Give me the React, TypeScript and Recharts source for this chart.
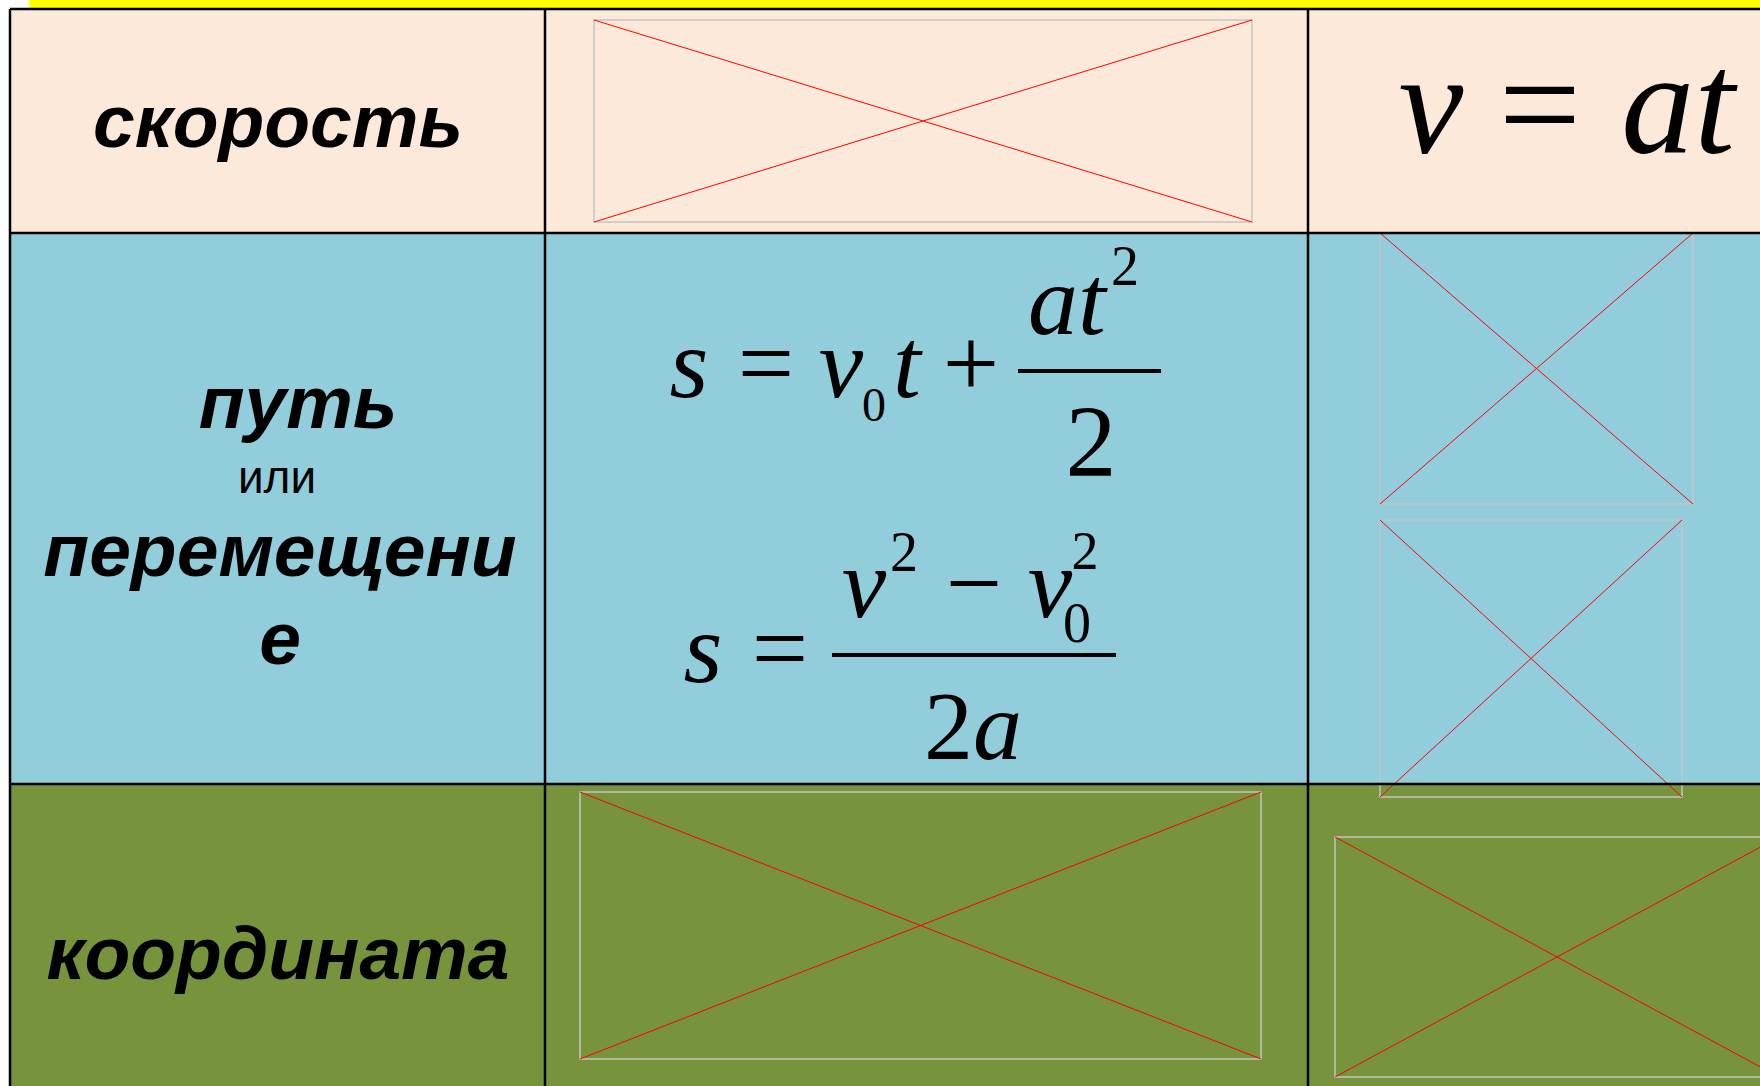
import React from 'react';
import { ComposedChart, XAxis, YAxis, ReferenceArea, ReferenceLine, Scatter } from 'recharts';

const WIDTH = 1760;
const HEIGHT = 1086;

// table grid (page units, axis domain = page size)
const colEdges = [10, 545, 1308, 1760];
const rowEdges = [9, 233, 784, 1086];
const rowFills = ['#FDE9D9', '#92CDDC', '#77933C'];

// left column labels, one entry per line as it wraps on the slide
const rowLabels = [['скорость'], ['путь', 'или', 'перемещени', 'е'], ['координата']];

// formula cells: [row, col, key]
const formulaCells: [number, number, string][] = [
  [0, 2, 'v=at'],
  [1, 1, 's-pair'],
];

// broken picture frames left on the slide
const pictures = [
  { x1: 594, x2: 1252, y1: 20, y2: 222 },
  { x1: 1380, x2: 1693, y1: 233, y2: 504 },
  { x1: 1380, x2: 1682, y1: 520, y2: 797 },
  { x1: 580, x2: 1261, y1: 792, y2: 1059 },
  { x1: 1335, x2: 1779, y1: 837, y2: 1077 },
];

const sans = "'Liberation Sans', Arial, sans-serif";
const serif = "'Liberation Serif', 'Times New Roman', serif";

const anchors = [
  ...rowLabels.map((lines, r) => ({ x: colEdges[0], y: rowEdges[r], key: 'label', row: r, lines })),
  ...formulaCells.map(([r, c, key]) => ({ x: colEdges[c], y: rowEdges[r], key, row: r, lines: [] as string[] })),
];

const T = (p: { x: number; y: number; size: number; it?: boolean; children: React.ReactNode }) => (
  <text
    x={p.x}
    y={p.y}
    fontSize={p.size}
    fontFamily={serif}
    fontStyle={p.it ? 'italic' : 'normal'}
    textAnchor="middle"
    fill="#000"
  >
    {p.children}
  </text>
);

// per row: [dx, baseline dy, size, bold italic]
const labelPos: [number, number, number, boolean][][] = [
  [[268, 138, 75, true]],
  [
    [288, 195, 75, true],
    [267, 260, 46, false],
    [270, 343, 75, true],
    [270, 431, 75, true],
  ],
  [[268, 195, 75, true]],
];

const CellContent = (props: any) => {
  const { cx, cy, payload } = props;
  if (payload.key === 'label') {
    const pos = labelPos[payload.row];
    return (
      <g>
        {payload.lines.map((s: string, i: number) => (
          <text
            key={i}
            x={cx + pos[i][0]}
            y={cy + pos[i][1]}
            fontSize={pos[i][2]}
            fontFamily={sans}
            fontWeight={pos[i][3] ? 'bold' : 'normal'}
            fontStyle={pos[i][3] ? 'italic' : 'normal'}
            textAnchor="middle"
            fill="#000"
          >
            {s}
          </text>
        ))}
      </g>
    );
  }
  if (payload.key === 'v=at') {
    return (
      <g>
        <T x={cx + 123} y={cy + 144} size={146} it>v</T>
        <T x={cx + 232} y={cy + 144} size={146}>=</T>
        <T x={cx + 370} y={cy + 144} size={146} it>at</T>
      </g>
    );
  }
  return (
    <g>
      <T x={cx + 144} y={cy + 164} size={100} it>s</T>
      <T x={cx + 221} y={cy + 164} size={100}>=</T>
      <T x={cx + 296} y={cy + 164} size={100} it>v</T>
      <T x={cx + 329} y={cy + 188} size={48}>0</T>
      <T x={cx + 362} y={cy + 164} size={100} it>t</T>
      <T x={cx + 426} y={cy + 164} size={100}>+</T>
      <line x1={cx + 473} x2={cx + 616} y1={cy + 138} y2={cy + 138} stroke="#000" strokeWidth={4} />
      <T x={cx + 522} y={cy + 101} size={100} it>at</T>
      <T x={cx + 580} y={cy + 52} size={56}>2</T>
      <T x={cx + 546} y={cy + 243} size={102}>2</T>

      <T x={cx + 158} y={cy + 449} size={100} it>s</T>
      <T x={cx + 235} y={cy + 449} size={100}>=</T>
      <line x1={cx + 287} x2={cx + 571} y1={cy + 422} y2={cy + 422} stroke="#000" strokeWidth={4} />
      <T x={cx + 319} y={cy + 384} size={100} it>v</T>
      <T x={cx + 359} y={cy + 338} size={56}>2</T>
      <T x={cx + 429} y={cy + 384} size={100}>−</T>
      <T x={cx + 505} y={cy + 384} size={100} it>v</T>
      <T x={cx + 540} y={cy + 336} size={54}>2</T>
      <T x={cx + 532} y={cy + 409} size={56}>0</T>
      <T x={cx + 428} y={cy + 526} size={98}>2<tspan fontStyle="italic">a</tspan></T>
    </g>
  );
};

const Picture = (props: any) => {
  const { x, y, width, height } = props;
  return (
    <g>
      <rect x={x} y={y} width={width} height={height} fill="none" stroke="#C4C4C4" strokeWidth={1.5} />
      <line x1={x} y1={y} x2={x + width} y2={y + height} stroke="#FF0000" strokeWidth={1} />
      <line x1={x} y1={y + height} x2={x + width} y2={y} stroke="#FF0000" strokeWidth={1} />
    </g>
  );
};

export default function App() {
  return (
    <div style={{ position: 'absolute', left: 0, top: 0, background: '#fff' }}>
      <ComposedChart width={WIDTH} height={HEIGHT} margin={{ top: 0, right: 0, bottom: 0, left: 0 }}>
        <XAxis type="number" dataKey="x" domain={[0, WIDTH]} hide allowDataOverflow />
        <YAxis type="number" dataKey="y" domain={[0, HEIGHT]} reversed hide allowDataOverflow />
        <ReferenceArea x1={29} x2={WIDTH} y1={0} y2={8} fill="#FFFF00" fillOpacity={1} ifOverflow="visible" />
        {rowFills.map((fill, r) =>
          colEdges.slice(0, -1).map((x1, c) => (
            <ReferenceArea
              key={`${r}-${c}`}
              x1={x1}
              x2={colEdges[c + 1]}
              y1={rowEdges[r]}
              y2={rowEdges[r + 1]}
              fill={fill}
              fillOpacity={1}
              ifOverflow="visible"
            />
          ))
        )}
        {colEdges.slice(0, -1).map((x, i) => (
          <ReferenceLine
            key={`c${i}`}
            segment={[{ x, y: rowEdges[0] }, { x, y: HEIGHT }]}
            stroke="#000"
            strokeWidth={2.5}
            ifOverflow="visible"
          />
        ))}
        {rowEdges.slice(0, -1).map((y, i) => (
          <ReferenceLine
            key={`r${i}`}
            segment={[{ x: colEdges[0], y }, { x: WIDTH, y }]}
            stroke="#000"
            strokeWidth={2.5}
            ifOverflow="visible"
          />
        ))}
        {pictures.map((p, i) => (
          <ReferenceArea key={`p${i}`} {...p} ifOverflow="visible" shape={(sp: any) => <Picture {...sp} />} />
        ))}
        <Scatter data={anchors} isAnimationActive={false} shape={(sp: any) => <CellContent {...sp} />} />
      </ComposedChart>
    </div>
  );
}
